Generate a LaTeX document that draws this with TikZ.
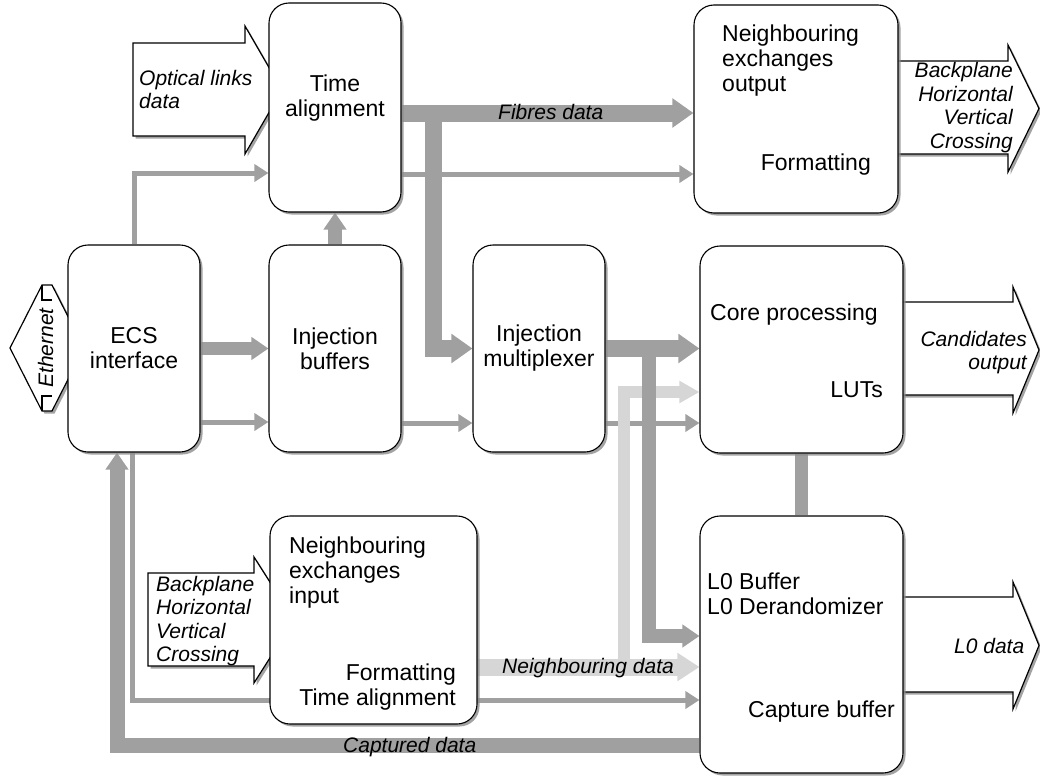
\documentclass[tikz,border=0pt]{standalone}
\usepackage{fontspec}
\setmainfont{Liberation Sans}
\usetikzlibrary{arrows.meta,shadows}
\definecolor{gristrait}{RGB}{160,160,160}
\definecolor{grisclair}{RGB}{214,214,214}
\newcommand\boxfont{\fontsize{23}{25}\selectfont}
\newcommand\lblfont{\fontsize{21}{23.5}\selectfont\itshape}
\pgfdeclarelayer{fond}
\pgfsetlayers{fond,main}

\begin{document}
\begin{tikzpicture}[x=1pt,y=-1pt]
\tikzset{ombre/.style={drop shadow={shadow xshift=2.5pt, shadow yshift=-2.5pt, fill=black!45, opacity=0.8}},
bloc/.style={draw, fill=white, rounded corners=20pt, line width=1.1pt, inner sep=0pt, align=center, font=\boxfont, ombre},
texte/.style={inner sep=0pt, font=\boxfont},
etiq/.style={inner sep=0pt, font=\lblfont},
grosse/.style={draw=black, fill=white, line width=1.2pt, line join=miter, ombre},
fil/.style={draw=gristrait, line width=5pt, -{Triangle[length=14pt,width=17pt]}},
bus/.style={draw=gristrait, line width=17pt, -{Triangle[length=21pt,width=28pt]}},
busmoy/.style={draw=gristrait, line width=13pt, -{Triangle[length=17pt,width=22pt]}},
voisin/.style={draw=grisclair, line width=17pt, -{Triangle[length=22pt,width=27pt]}}}
\useasboundingbox (0,0) rectangle (1040,776);
\node[bloc, minimum width=132pt, minimum height=209pt] (ta) at (335,107.5) {};
\node[bloc, minimum width=204pt, minimum height=208pt] (neo) at (796,109) {};
\node[bloc, minimum width=132pt, minimum height=207pt] (ecs) at (134,348.5) {ECS\\interface};
\node[bloc, minimum width=132pt, minimum height=207pt] (ib) at (335,348.5) {Injection\\buffers};
\node[bloc, minimum width=132pt, minimum height=207pt] (im) at (539,348.5) {Injection\\multiplexer};
\node[bloc, minimum width=203pt, minimum height=207pt] (cp) at (801.5,349.5) {};
\node[bloc, minimum width=207pt, minimum height=208pt] (nei) at (373.5,620) {};
\node[bloc, minimum width=203pt, minimum height=257pt] (l0b) at (801.5,644.5) {};
\node[texte, anchor=north, align=center] (ta-t) at (335,74.5) {Time\\alignment};
\node[texte, anchor=north west, align=left] (neo-t) at (722,25) {Neighbouring\\exchanges\\output};
\node[texte, anchor=base east] (neo-f) at (871,170) {Formatting};
\node[texte, anchor=base west] (cp-t) at (710,320) {Core processing};
\node[texte, anchor=base east] (cp-l) at (883,397) {LUTs};
\node[texte, anchor=north west, align=left] (l0b-t) at (707,572.5) {L0 Buffer\\L0 Derandomizer};
\node[texte, anchor=base east] (l0b-c) at (895,717) {Capture buffer};
\node[texte, anchor=north west, align=left] (nei-t) at (289,536.5) {Neighbouring\\exchanges\\input};
\node[texte, anchor=north east, align=right] (nei-f) at (456,663.5) {Formatting\\Time alignment};
\node[etiq, anchor=north west, align=left] (opt) at (139,70) {Optical links\\data};
\node[etiq, anchor=north east, align=right] (bpo) at (1013,62.5) {Backplane\\Horizontal\\Vertical\\Crossing};
\node[etiq, anchor=north east, align=right] (cand) at (1027,331) {Candidates\\output};
\node[etiq, anchor=base west] (l0d) at (954,653) {L0 data};
\node[etiq, anchor=north west, align=left] (bpi) at (156,576) {Backplane\\Horizontal\\Vertical\\Crossing};
\node[etiq, anchor=base west] (fib) at (498,119) {Fibres data};
\node[etiq, anchor=base west] (vois) at (502,673) {Neighbouring data};
\node[etiq, anchor=base west] (capt) at (343,752) {Captured data};
\node[etiq, rotate=90, anchor=base] (eth) at (53,348) {Ethernet};
\coordinate (fourche) at (433,113);
\coordinate (fourche2) at (649,348.5);
\coordinate (fourche3) at (624,667);
\begin{pgfonlayer}{fond}
\path[grosse] (133,43) -- (245,43) -- (245,26) -- (282,90) -- (245,154) -- (245,136) -- (133,136) -- cycle;
\path[grosse] (880,61) -- (1008,61) -- (1008,45) -- (1039,108.5) -- (1008,172) -- (1008,154) -- (880,154) -- cycle;
\path[grosse] (880,302) -- (1013,302) -- (1013,287) -- (1039,350) -- (1013,413) -- (1013,395) -- (880,395) -- cycle;
\path[grosse] (880,597) -- (1013,597) -- (1013,582) -- (1039,645.5) -- (1013,709) -- (1013,692) -- (880,692) -- cycle;
\path[grosse] (148,573) -- (254,573) -- (254,557) -- (294,620) -- (254,683) -- (254,666) -- (148,666) -- cycle;
\path[grosse] (10,348) -- (42,285) -- (52,285) -- (84,348) -- (52,411) -- (42,411) -- cycle;
\draw[line width=1.2pt] (42,285) -- (42,300) -- (52,300) (42,411) -- (42,396) -- (52,396);
\draw[fil] (ecs.north) |- (ta.west |- 0,173);
\draw[fil] (ta.east |- 0,174) -- (neo.west |- 0,174);
\draw[bus] (ta.east |- 0,113) -- (neo.west |- 0,113);
\draw[bus] (fourche) |- (im.west);
\draw[busmoy, line width=14pt] (ib.north) -- (ta.south);
\draw[busmoy] (ecs.east) -- (ib.west);
\draw[fil] (ecs.east |- 0,422) -- (ib.west |- 0,422);
\draw[fil] (ib.east |- 0,423) -- (im.west |- 0,423);
\draw[fil] (im.east |- 0,423) -- (cp.west |- 0,423);
\draw[voisin] (nei.east |- 0,667) -- (l0b.west |- 0,667);
\draw[voisin, line width=12pt, -{Triangle[length=20pt,width=21pt]}] (fourche3) |- (cp.west |- 0,392);
\draw[bus] (im.east) -- (cp.west |- im.east);
\draw[busmoy, line width=14pt] (fourche2) |- (l0b.west |- 0,636);
\draw[fil] (ecs.south -| 132,0) |- (l0b.west |- 0,700);
\draw[busmoy, line width=15pt] (l0b.west |- 0,745) -| (ecs.south -| 117,0);
\draw[busmoy, -] (cp.south) -- (l0b.north);
\end{pgfonlayer}
\end{tikzpicture}
\end{document}
